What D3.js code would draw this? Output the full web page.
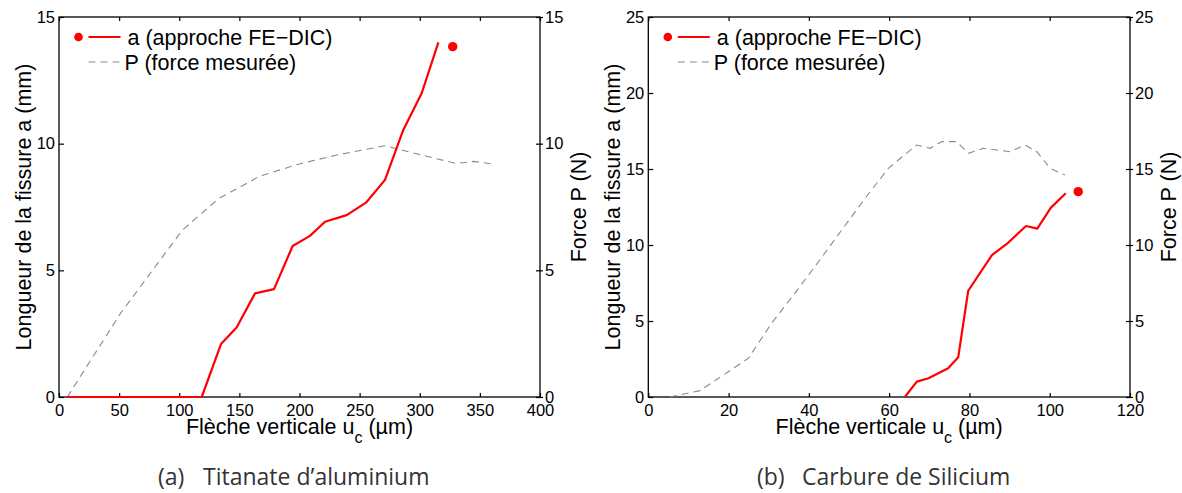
<!DOCTYPE html>
<html>
<head>
<meta charset="utf-8">
<script src="https://cdn.jsdelivr.net/npm/d3@7"></script>
<style>
  html, body { margin: 0; padding: 0; background: #fff; }
  svg { display: block; }
  .tick text { font-family: "Liberation Sans", Arial, sans-serif; font-size: 16.5px; fill: #000; }
</style>
</head>
<body>
<svg id="chart" width="1182" height="493"></svg>
<script>
// ---------- Data ----------
// (a) Titanate d'aluminium
const xTicksA = [0, 50, 100, 150, 200, 250, 300, 350, 400];
const yTicksA = [0, 5, 10, 15];
const uCrackA = [6.9, 118.7, 134.7, 147.7, 163, 178.8, 194.3, 208.7, 221.2, 239.2, 255.3, 271.1, 286.3, 301.6, 315.5];
const aCrackA = [0, 0, 2.09, 2.74, 4.09, 4.26, 5.96, 6.36, 6.92, 7.18, 7.67, 8.57, 10.54, 11.99, 14.0];
const uDotA = [327.4];
const aDotA = [13.83];
const uForceA = [6.9, 51.3, 102.6, 133, 158.8, 166, 199, 231, 271, 300, 330, 345, 360];
const pForceA = [0, 3.31, 6.59, 7.84, 8.50, 8.70, 9.19, 9.55, 9.92, 9.57, 9.22, 9.30, 9.20];

// (b) Carbure de Silicium
const xTicksB = [0, 20, 40, 60, 80, 100, 120];
const yTicksB = [0, 5, 10, 15, 20, 25];
const uCrackB = [63.9, 66.9, 69.8, 74.7, 77.2, 79.7, 85.6, 89.3, 94.1, 96.9, 100.3, 104];
const aCrackB = [0, 1.01, 1.23, 1.89, 2.61, 6.99, 9.34, 10.07, 11.25, 11.08, 12.46, 13.4];
const uDotB = [107.1];
const aDotB = [13.51];
const uForceB = [5.4, 12.9, 24.9, 30.7, 36.5, 42.4, 48.2, 54, 59.8, 64.8, 66.9, 70.2, 73.1, 76.8, 79.7, 83.5, 90.1, 93.9, 96.8, 100.1, 103.8];
const pForceB = [0, 0.42, 2.54, 4.85, 6.82, 8.9, 10.99, 13.07, 15.04, 16.14, 16.58, 16.36, 16.8, 16.8, 16.03, 16.36, 16.14, 16.58, 16.14, 15.05, 14.6];

const legendLabels = ["a (approche FE\u2212DIC)", "P (force mesur\u00e9e)"];
const yLabelLeft = "Longueur de la fissure a (mm)";
const yLabelRight = "Force P (N)";
const xLabelMain = "Fl\u00e8che verticale u";
const xLabelSub = "c";
const xLabelEnd = " (\u00b5m)";

const captionTags = ["(a)", "(b)"];
const captionTexts = ["Titanate d\u2019aluminium", "Carbure de Silicium"];

// ---------- Drawing ----------
const svg = d3.select("#chart");
const FONT = '"Liberation Sans", Arial, sans-serif';
const RED = "#ff0000";
const GRAY = "#8a8a8a";
const LABEL_SIZE = 21.5;

function drawPanel(opt) {
  const { left, right, top, bottom, xDomain, yDomain, xTicks, yTicks,
          uCrack, aCrack, uDot, aDot, uForce, pForce, tag, caption } = opt;
  const g = svg.append("g");
  const x = d3.scaleLinear().domain(xDomain).range([left, right]);
  const y = d3.scaleLinear().domain(yDomain).range([bottom, top]);
  const yP = d3.scaleLinear().domain(yDomain).range([bottom, top]);

  // box
  g.append("rect").attr("x", left).attr("y", top)
    .attr("width", right - left).attr("height", bottom - top)
    .attr("fill", "none").attr("stroke", "#000").attr("stroke-width", 1.3);

  // bottom axis (inward ticks)
  g.append("g").attr("transform", `translate(0,${bottom})`)
    .call(d3.axisBottom(x).tickValues(xTicks).tickSizeInner(-4).tickSizeOuter(0).tickPadding(7).tickFormat(d3.format("d")))
    .call(a => a.select(".domain").remove());
  // top axis ticks
  g.append("g").attr("transform", `translate(0,${top})`)
    .call(d3.axisTop(x).tickValues(xTicks).tickSizeInner(-4).tickSizeOuter(0).tickFormat(""))
    .call(a => a.select(".domain").remove());
  // left axis
  g.append("g").attr("transform", `translate(${left},0)`)
    .call(d3.axisLeft(y).tickValues(yTicks).tickSizeInner(-5).tickSizeOuter(0).tickPadding(4).tickFormat(d3.format("d")))
    .call(a => a.select(".domain").remove());
  // right axis: inward mirror ticks + outward ticks with labels
  g.append("g").attr("transform", `translate(${right},0)`)
    .call(d3.axisLeft(yP).tickValues(yTicks).tickSizeInner(4).tickSizeOuter(0).tickFormat(""))
    .call(a => a.select(".domain").remove());
  g.append("g").attr("transform", `translate(${right},0)`)
    .call(d3.axisRight(yP).tickValues(yTicks).tickSizeInner(3).tickSizeOuter(0).tickPadding(2).tickFormat(d3.format("d")))
    .call(a => a.select(".domain").remove());
  g.selectAll(".tick line").attr("stroke", "#000").attr("stroke-width", 1.2);

  // force (dashed gray)
  const forcePts = uForce.map((u, i) => [u, pForce[i]]);
  g.append("path").datum(forcePts)
    .attr("fill", "none").attr("stroke", GRAY).attr("stroke-width", 1.1)
    .attr("stroke-dasharray", "7,5")
    .attr("d", d3.line().x(d => x(d[0])).y(d => yP(d[1])));

  // crack length (red)
  const crackPts = uCrack.map((u, i) => [u, aCrack[i]]);
  g.append("path").datum(crackPts)
    .attr("fill", "none").attr("stroke", RED).attr("stroke-width", 2.2)
    .attr("stroke-linejoin", "round")
    .attr("d", d3.line().x(d => x(d[0])).y(d => y(d[1])));

  // dot
  g.selectAll("circle.dot").data(uDot.map((u, i) => [u, aDot[i]])).enter()
    .append("circle").attr("class", "dot")
    .attr("cx", d => x(d[0])).attr("cy", d => y(d[1])).attr("r", 4.7).attr("fill", RED);

  // legend
  const lx = left + 19.5;
  const lg = g.append("g");
  lg.append("circle").attr("cx", lx).attr("cy", 37).attr("r", 4.3).attr("fill", RED);
  lg.append("line").attr("x1", lx + 10).attr("x2", lx + 42).attr("y1", 37).attr("y2", 37)
    .attr("stroke", RED).attr("stroke-width", 2.2);
  lg.append("line").attr("x1", lx + 10).attr("x2", lx + 42).attr("y1", 62).attr("y2", 62)
    .attr("stroke", GRAY).attr("stroke-width", 1.1).attr("stroke-dasharray", "7,5");
  lg.selectAll("text").data(legendLabels).enter().append("text")
    .attr("x", (d, i) => lx + (i === 0 ? 49 : 46)).attr("y", (d, i) => 44.5 + i * 25)
    .attr("font-family", FONT).attr("font-size", LABEL_SIZE).attr("fill", "#000")
    .text(d => d);

  // y labels
  const cy = (top + bottom) / 2;
  g.append("text").attr("transform", `translate(${left - 28},${cy}) rotate(-90)`)
    .attr("text-anchor", "middle").attr("font-family", FONT).attr("font-size", LABEL_SIZE)
    .text(yLabelLeft);
  g.append("text").attr("transform", `translate(${right + 46},${cy}) rotate(-90)`)
    .attr("text-anchor", "middle").attr("font-family", FONT).attr("font-size", LABEL_SIZE)
    .text(yLabelRight);

  // x label with subscript
  const xl = g.append("text").attr("x", (left + right) / 2).attr("y", 434)
    .attr("text-anchor", "middle").attr("font-family", FONT).attr("font-size", LABEL_SIZE);
  xl.append("tspan").text(xLabelMain);
  xl.append("tspan").attr("dy", 9).attr("font-size", 16).text(xLabelSub);
  xl.append("tspan").attr("dy", -9).text(xLabelEnd);

  // caption
  const cg = g.append("g");
  cg.append("text").attr("x", tag.x).attr("y", 485)
    .attr("font-family", '"Open Sans", sans-serif').attr("font-size", 23).attr("fill", "#333")
    .text(tag.t);
  cg.append("text").attr("x", tag.x + 45).attr("y", 485)
    .attr("font-family", '"Open Sans", sans-serif').attr("font-size", 23).attr("fill", "#333")
    .text(caption);
}

drawPanel({
  left: 59, right: 540, top: 17, bottom: 397,
  xDomain: [0, 400], yDomain: [0, 15], xTicks: xTicksA, yTicks: yTicksA,
  uCrack: uCrackA, aCrack: aCrackA, uDot: uDotA, aDot: aDotA,
  uForce: uForceA, pForce: pForceA,
  tag: { x: 158, t: captionTags[0] }, caption: captionTexts[0]
});
drawPanel({
  left: 648.3, right: 1130, top: 17, bottom: 397,
  xDomain: [0, 120], yDomain: [0, 25], xTicks: xTicksB, yTicks: yTicksB,
  uCrack: uCrackB, aCrack: aCrackB, uDot: uDotB, aDot: aDotB,
  uForce: uForceB, pForce: pForceB,
  tag: { x: 757, t: captionTags[1] }, caption: captionTexts[1]
});
</script>
</body>
</html>
